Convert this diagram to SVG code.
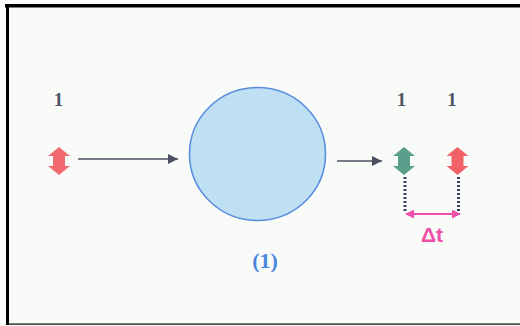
<svg xmlns="http://www.w3.org/2000/svg" width="520" height="326" viewBox="0 0 520 326">
<style>
.num{font-family:"Liberation Serif","Times New Roman",serif;font-weight:bold;font-size:19px;fill:#4e5466;text-anchor:middle}
.conn{stroke:#4a5060;stroke-width:1.6;fill:none}
.dot{stroke:#3a4058;stroke-width:3;stroke-dasharray:2 2;fill:none}
</style>
<defs>
<path id="dbl" d="M0,-14 L11,-5 L6,-5 L6,5 L11,5 L0,14 L-11,5 L-6,5 L-6,-5 L-11,-5 Z"/>
<marker id="ah" viewBox="0 0 10 10" refX="10" refY="5" markerWidth="10" markerHeight="10" markerUnits="userSpaceOnUse" orient="auto">
<path d="M0,0 L10,5 L0,10 Z" fill="#4a5060"/>
</marker>
<marker id="pk" viewBox="0 0 10 10" refX="9" refY="5" markerWidth="9" markerHeight="9" markerUnits="userSpaceOnUse" orient="auto-start-reverse">
<path d="M0,0 L10,5 L0,10 Z" fill="#ee4fa8"/>
</marker>
</defs>
<rect x="0" y="0" width="520" height="326" fill="#ffffff"/>
<rect x="8" y="6" width="512" height="318" fill="#f9fbf9"/>
<rect x="5" y="4" width="515" height="3.5" fill="#000"/>
<rect x="6" y="4" width="3" height="321" fill="#000"/>
<rect x="6" y="323.5" width="514" height="1.2" fill="#000"/>
<g id="input">
<text class="num" x="58.5" y="106">1</text>
<use href="#dbl" x="59" y="161" fill="#f26b70"/>
</g>
<g id="process">
<ellipse cx="257.5" cy="154" rx="68" ry="66.5" fill="#bfe0f3" stroke="#5b8ee0" stroke-width="1.6"/>
<text x="265" y="268" font-family="Liberation Serif, Times New Roman, serif" font-weight="bold" font-size="22" fill="#4a86de" text-anchor="middle">(1)</text>
</g>
<g id="out1">
<text class="num" x="401.5" y="106">1</text>
<use href="#dbl" x="404" y="161" fill="#5a9e8c"/>
</g>
<g id="out2">
<text class="num" x="452" y="106">1</text>
<use href="#dbl" x="457.5" y="161" fill="#f06265"/>
</g>
<g id="connectors">
<line class="conn" x1="78" y1="159" x2="178" y2="159" marker-end="url(#ah)"/>
<line class="conn" x1="337" y1="161" x2="382" y2="161" marker-end="url(#ah)"/>
<line class="dot" x1="405" y1="177" x2="405" y2="213"/>
<line class="dot" x1="458.5" y1="177" x2="458.5" y2="213"/>
<line x1="406" y1="214" x2="460" y2="214" stroke="#ee4fa8" stroke-width="1.8" marker-start="url(#pk)" marker-end="url(#pk)"/>
<text x="432" y="242" font-family="Liberation Sans, sans-serif" font-weight="bold" font-size="21" fill="#ee4fa8" text-anchor="middle">Δt</text>
</g>
</svg>
